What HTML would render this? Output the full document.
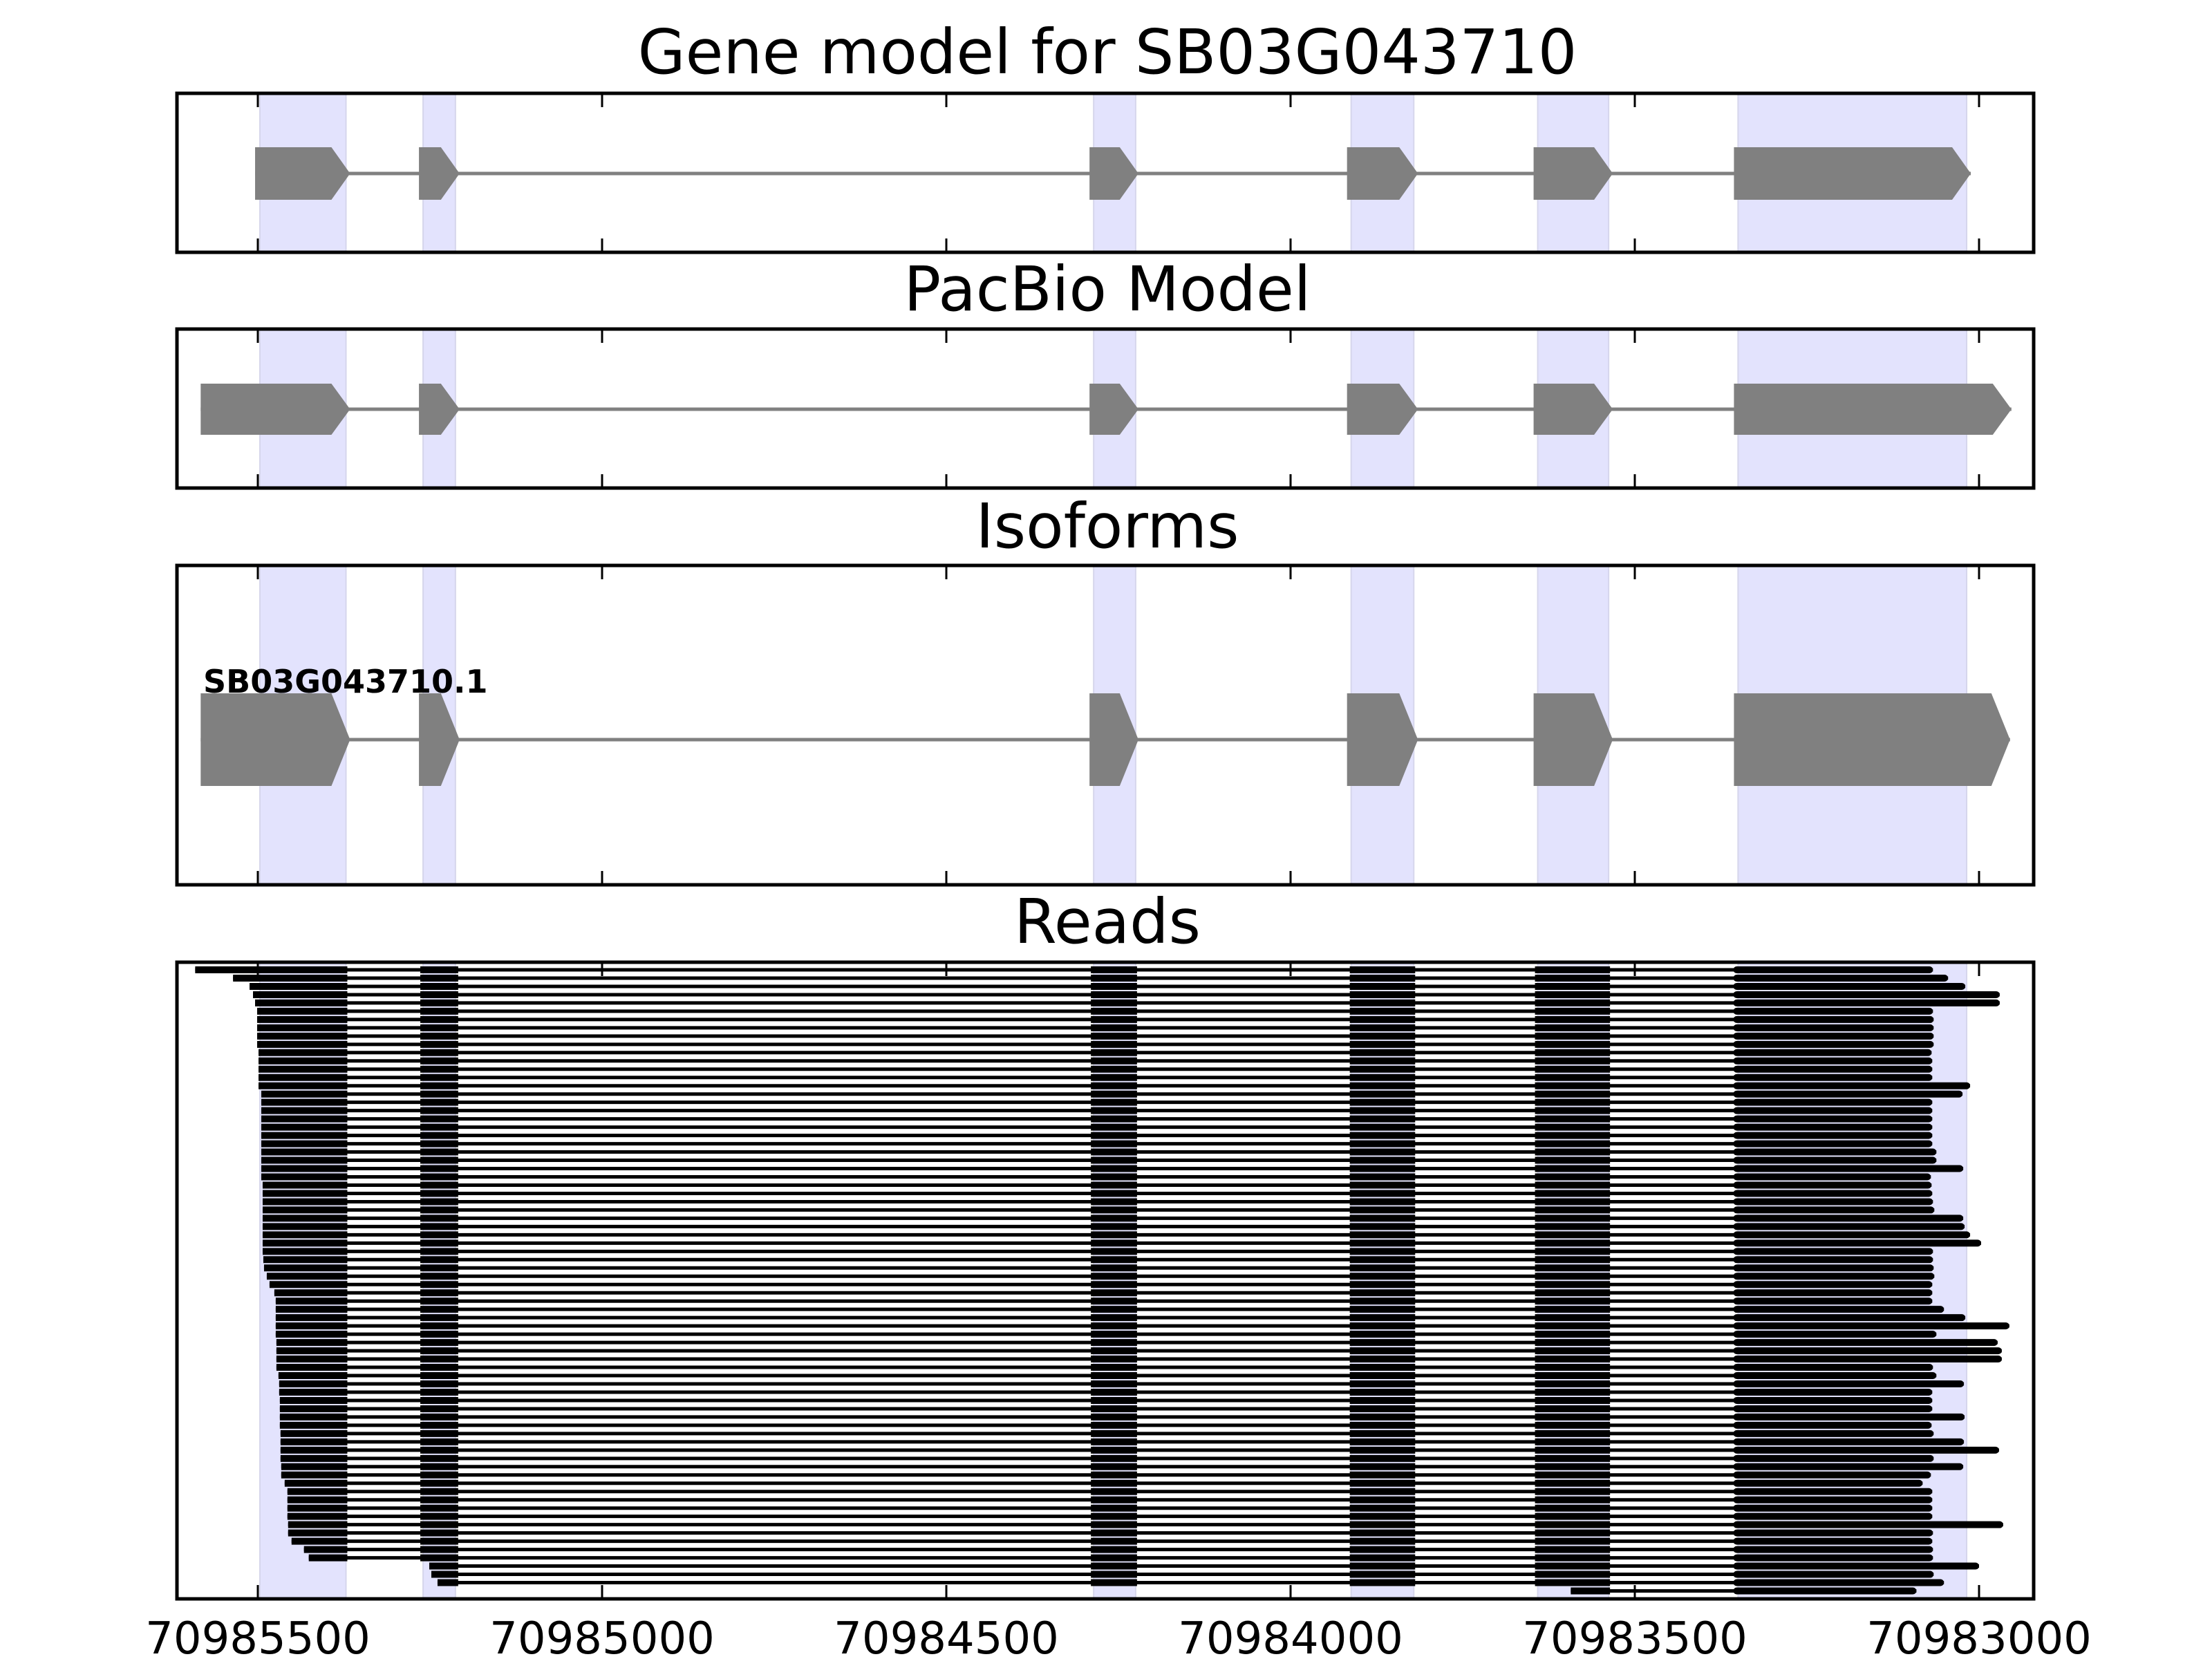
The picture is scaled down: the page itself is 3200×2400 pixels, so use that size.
<!DOCTYPE html>
<html><head><meta charset="utf-8"><title>Gene model for SB03G043710</title>
<style>
html,body{margin:0;padding:0;background:#fff;}
svg{display:block;}
text{font-family:"DejaVu Sans","Liberation Sans",sans-serif;}
</style></head>
<body>
<svg id="chart" xmlns="http://www.w3.org/2000/svg" width="3200" height="2400" viewBox="0 0 3200 2400">
<rect x="0" y="0" width="3200" height="2400" fill="#fff"/>
<g id="layer"></g>
</svg>
<script>
// ---- data (genomic coordinates) ----
const tickValues = [70985500, 70985000, 70984500, 70984000, 70983500, 70983000];
const tickLabels = ["70985500", "70985000", "70984500", "70984000", "70983500", "70983000"];
const shadeStarts = [70985497, 70985260, 70984286, 70983912, 70983641, 70983350];
const shadeEnds   = [70985372, 70985213, 70984225, 70983821, 70983538, 70983018];
const geneStarts  = [70985504, 70985266, 70984292, 70983918, 70983647, 70983356];
const geneEnds    = [70985366, 70985207, 70984221, 70983815, 70983532, 70983012];
const pacStarts   = [70985583, 70985266, 70984292, 70983918, 70983647, 70983356];
const pacEnds     = [70985366, 70985207, 70984221, 70983815, 70983532, 70982953];
const isoStarts   = [70985583, 70985266, 70984292, 70983918, 70983647, 70983356];
const isoEnds     = [70985366, 70985207, 70984221, 70983815, 70983532, 70982955];
const isoformName = "SB03G043710.1";
const readExonStarts = [70985700, 70985264, 70984290, 70983914, 70983645, 70983352];
const readExonEnds   = [70985370, 70985209, 70984223, 70983819, 70983536, 70982000];
const readStarts = [
70985591,70985536,70985512,70985507,70985504,70985501,70985501,70985501,70985501,70985501,
70985499,70985499,70985499,70985499,70985499,70985495,70985495,70985495,70985495,70985495,
70985495,70985495,70985495,70985495,70985495,70985495,70985493,70985493,70985493,70985493,
70985493,70985493,70985493,70985493,70985493,70985492,70985491,70985487,70985483,70985476,
70985474,70985474,70985474,70985474,70985474,70985473,70985473,70985473,70985473,70985470,
70985469,70985469,70985468,70985468,70985468,70985468,70985467,70985467,70985467,70985467,
70985466,70985466,70985461,70985457,70985457,70985457,70985457,70985456,70985456,70985451,
70985433,70985426,70985251,70985248,70985239,70983593];
const readEnds = [
70983067,70983045,70983020,70982970,70982970,70983067,70983066,70983066,70983066,70983066,
70983069,70983068,70983068,70983068,70983013,70983024,70983068,70983068,70983068,70983068,
70983068,70983068,70983062,70983062,70983023,70983070,70983069,70983068,70983067,70983065,
70983023,70983021,70983013,70982997,70983067,70983067,70983066,70983065,70983068,70983068,
70983068,70983051,70983020,70982956,70983062,70982973,70982967,70982967,70983067,70983062,
70983022,70983068,70983068,70983068,70983021,70983069,70983066,70983022,70982971,70983066,
70983023,70983070,70983082,70983068,70983068,70983068,70983068,70982965,70983067,70983068,
70983067,70983067,70983000,70983066,70983051,70983091];

// ---- layout ----
const X0 = 373, PXPB = 0.996;
function xs(g){ return X0 + (70985500 - g) * PXPB; }
const left = 256, right = 2942;
const panels = [
  {name:"gene-model", title:"Gene model for SB03G043710", top:135, bottom:365, tb:106},
  {name:"pacbio-model", title:"PacBio Model", top:476, bottom:706, tb:449},
  {name:"isoforms", title:"Isoforms", top:818, bottom:1280, tb:792},
  {name:"reads", title:"Reads", top:1392, bottom:2313, tb:1364}
];
const NS = "http://www.w3.org/2000/svg";
const layer = document.getElementById("layer");
function mk(tag, attrs, parent){
  const e = document.createElementNS(NS, tag);
  for (const k in attrs) e.setAttribute(k, attrs[k]);
  (parent||layer).appendChild(e);
  return e;
}

panels.forEach(function(p, pi){
  const g = mk("g", {});
  
  
  for (let i = 0; i < shadeStarts.length; i++){
    const a = xs(shadeStarts[i]), b = xs(shadeEnds[i]);
    const r = mk("rect", {x:a, y:p.top, width:b-a, height:p.bottom-p.top, fill:"#e3e3fd", stroke:"#d6d6ec", "stroke-width":2}, g);
    
    
  }
  const t = mk("text", {x:1602, y:p.tb, "font-size":89, "text-anchor":"middle", fill:"#000"}, g);
  t.textContent = p.title;
  
  
});

function drawModel(starts, ends, cy, h, name){
  const g = mk("g", {});
  
  
  const ln = mk("line", {x1:xs(starts[0]), x2:xs(ends[ends.length-1]), y1:cy, y2:cy, stroke:"#808080", "stroke-width":5}, g);
  
  
  for (let i = 0; i < starts.length; i++){
    const a = xs(starts[i]), b = xs(ends[i]);
    const ar = Math.min(27, (b-a)*0.5);
    const pts = [[a,cy-h/2],[b-ar,cy-h/2],[b,cy],[b-ar,cy+h/2],[a,cy+h/2]].map(q=>q.join(",")).join(" ");
    const pg = mk("polygon", {points:pts, fill:"#808080"}, g);
    
    
  }
  return g;
}
drawModel(geneStarts, geneEnds, 251, 76, "gene-model-exons");
drawModel(pacStarts, pacEnds, 592, 74, "pacbio-model-exons");
drawModel(isoStarts, isoEnds, 1070, 134, "isoform-exons");
const lab = mk("text", {x:294, y:1002, "font-size":46, "font-weight":"bold", fill:"#000"});
lab.textContent = isoformName;



// reads
const readsG = mk("g", {});


const rTop = 1403, rPitch = 11.98;
for (let r = 0; r < readStarts.length; r++){
  const cy = rTop + r * rPitch;
  const s = readStarts[r], e = readEnds[r];
  const rg = mk("g", {}, readsG);
  
  
  mk("line", {x1:xs(s), x2:xs(e), y1:cy, y2:cy, stroke:"#000", "stroke-width":5}, rg);
  for (let i = 0; i < readExonStarts.length; i++){
    const a = Math.min(s, readExonStarts[i]);
    const b = Math.max(e, readExonEnds[i]);
    if (a <= b) continue;
    const last = i === readExonStarts.length - 1;
    const x1 = xs(a), x2 = xs(b) - (last ? 5 : 0);
    const bl = mk("line", {x1:x1, x2:x2, y1:cy, y2:cy, stroke:"#000", "stroke-width":10, "stroke-linecap": last ? "round" : "butt"}, rg);
    
    
  }
}

// frames + ticks
panels.forEach(function(p){
  const fr = mk("rect", {x:left, y:p.top, width:right-left, height:p.bottom-p.top, fill:"none", stroke:"#000", "stroke-width":5});
  
  
  tickValues.forEach(function(v){
    const x = xs(v);
    const t1 = mk("line", {x1:x, x2:x, y1:p.top, y2:p.top+20, stroke:"#000", "stroke-width":3});
    
    
    const t2 = mk("line", {x1:x, x2:x, y1:p.bottom, y2:p.bottom-20, stroke:"#000", "stroke-width":3});
    
    
  });
});
tickValues.forEach(function(v, i){
  const t = mk("text", {x:xs(v), y:2392, "font-size":64, "text-anchor":"middle", fill:"#000"});
  t.textContent = tickLabels[i];
  
  
});
</script>
</body></html>
